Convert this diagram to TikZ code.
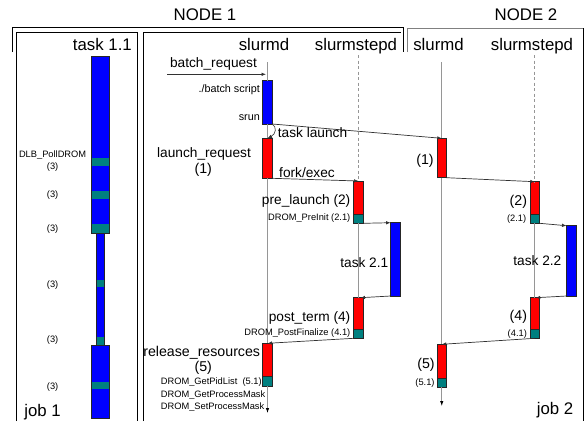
\documentclass[tikz,border=0pt]{standalone}
\usepackage{fontspec}
\setmainfont{Liberation Sans}
\usetikzlibrary{arrows.meta}
\definecolor{barblue}{RGB}{0,0,255}
\definecolor{barred}{RGB}{255,0,0}
\definecolor{barteal}{RGB}{0,128,128}
\definecolor{lifegray}{RGB}{150,150,150}
\definecolor{msggray}{RGB}{50,50,50}
\definecolor{framegray}{RGB}{128,128,128}
\begin{document}
\begin{tikzpicture}[x=1pt,y=-1pt,
  fsz/.style={font=\fontsize{#1}{#1}\selectfont},
  lbl/.style={inner sep=0pt},
  hdr/.style={lbl,fsz=16.8},
  midl/.style={lbl,fsz=13.7},
  numl/.style={lbl,fsz=14.2},
  sml/.style={lbl,fsz=9.3},
  scl/.style={lbl,fsz=10.8},
  frame/.style={draw=black,line width=0.9pt},
  gframe/.style={draw=framegray,line width=0.9pt},
  bar/.style={draw=black!85,line width=0.6pt,inner sep=0pt,minimum width=9.5pt,anchor=north west,outer sep=0pt},
  bluebar/.style={bar,fill=barblue},
  redbar/.style={bar,fill=barred},
  tealbar/.style={bar,fill=barteal},
  life/.style={draw=lifegray,line width=0.8pt},
  lifearrow/.style={life,-{Latex[length=5pt,width=3.5pt,color=black]}},
  msg/.style={draw=msggray,line width=0.7pt,-{Latex[length=4.5pt,width=3.5pt]}},
]
\useasboundingbox (0,0) rectangle (586,421);
\fill[white] (0,0) rectangle (586,421);

% ---------- frames ----------
\draw[frame] (12.7,52) -- (12.7,27.3) -- (403.3,27.3) -- (403.3,52);
\draw[frame] (16,421) -- (16,32) -- (137,32) -- (137,421);
\draw[frame] (143,421) -- (143,32) -- (401,32);
\draw[gframe] (407.5,52) -- (407.5,28) -- (583.7,28);
\draw[frame] (583.7,28) -- (583.7,421);

% ---------- headers ----------
\node[hdr,anchor=base] (n1) at (205,20) {NODE 1};
\node[hdr,anchor=base] (n2) at (526,20) {NODE 2};
\node[hdr,anchor=base east] (t11) at (132,50) {task 1.1};
\node[hdr,anchor=base] (sd1) at (264,50) {slurmd};
\node[hdr,anchor=base] (ss1) at (356,50) {slurmstepd};
\node[hdr,anchor=base] (sd2) at (438.5,50) {slurmd};
\node[hdr,anchor=base] (ss2) at (532,50) {slurmstepd};
\node[hdr,anchor=base] (j1) at (42.5,416) {job 1};
\node[hdr,anchor=base east] (j2) at (573.5,414.5) {job 2};

% ---------- left column (task 1.1) ----------
\fill[barblue] (91,56.7) rectangle (109,233);
\fill[barteal] (91,158.3) rectangle (109,166);
\fill[barteal] (91,190.7) rectangle (109,199);
\fill[barteal] (91,224) rectangle (109,233);
\draw[black!85,line width=0.7pt] (91,56.7) rectangle (109,233);
\fill[barblue] (96,233) rectangle (104,345);
\fill[barteal] (96,280) rectangle (104,287.3);
\fill[barteal] (96,337.3) rectangle (104,345);
\draw[black!85,line width=0.7pt] (96,233) rectangle (104,345);
\fill[barblue] (91,345) rectangle (109,418);
\fill[barteal] (91,382.3) rectangle (109,389);
\draw[black!85,line width=0.7pt] (91,345) rectangle (109,418);

\node[sml,anchor=base] (dlb) at (52.6,157.5) {DLB\_PollDROM};
\node[sml,anchor=base] (p3a) at (52.6,169.5) {(3)};
\node[sml,anchor=base] (p3b) at (52.6,197.8) {(3)};
\node[sml,anchor=base] (p3c) at (52.6,231.8) {(3)};
\node[sml,anchor=base] (p3d) at (52.6,287) {(3)};
\node[sml,anchor=base] (p3e) at (52.6,342.8) {(3)};
\node[sml,anchor=base] (p3f) at (52.6,389.5) {(3)};

% ---------- lifeline end points ----------
\coordinate (a1top) at (267.5,62);
\coordinate (a1bot) at (267.5,413);
\coordinate (s1top) at (358.5,55);
\coordinate (a2top) at (441.75,62);
\coordinate (a2bot) at (441.75,406);
\coordinate (s2top) at (534.75,55);

% ---------- bars NODE 1 ----------
\node[bluebar,minimum height=43.3pt] (bs) at (262.75,80.7) {};
\node[redbar,minimum height=40pt] (lr) at (262.75,138.3) {};
\node[redbar,minimum height=33pt] (pl) at (353.75,181) {};
\node[tealbar,minimum height=9.3pt] (plt) at (353.75,214) {};
\node[bluebar,minimum height=73.3pt] (t21) at (390.6,222.7) {};
\node[redbar,minimum height=31.6pt] (pt) at (353.75,297.7) {};
\node[tealbar,minimum height=9pt] (ptt) at (353.75,329.3) {};
\node[redbar,minimum height=33.4pt] (rr) at (262.75,343.3) {};
\node[tealbar,minimum height=9.3pt] (rrt) at (262.75,376.7) {};

% ---------- bars NODE 2 ----------
\node[redbar,minimum height=39.4pt] (n2lr) at (437,138.3) {};
\node[redbar,minimum height=32.3pt] (n2pl) at (530,181.7) {};
\node[tealbar,minimum height=9.3pt] (n2plt) at (530,214) {};
\node[bluebar,minimum height=70.3pt] (t22) at (566.5,225.7) {};
\node[redbar,minimum height=31.6pt] (n2pt) at (530,297.7) {};
\node[tealbar,minimum height=9pt] (n2ptt) at (530,329.3) {};
\node[redbar,minimum height=34pt] (n2rr) at (437,344.3) {};
\node[tealbar,minimum height=9pt] (n2rrt) at (437,378.3) {};

% ---------- lifelines ----------
\draw[life] (a1top) -- (bs.north);
\draw[life] (bs.south) -- (lr.north);
\draw[life] (lr.south) -- (rr.north);
\draw[lifearrow] (rrt.south) -- (a1bot);
\draw[life,dash pattern=on 3pt off 2.5pt] (s1top) -- (pl.north);
\draw[life] (plt.south) -- (pt.north);
\draw[life] (a2top) -- (n2lr.north);
\draw[life] (n2lr.south) -- (n2rr.north);
\draw[lifearrow] (n2rrt.south) -- (a2bot);
\draw[life,dash pattern=on 3pt off 2.5pt] (s2top) -- (n2pl.north);
\draw[life] (n2plt.south) -- (n2pt.north);

% ---------- messages ----------
\coordinate (brs) at (167,74.3);
\coordinate (bre) at (266,74.3);
\draw[msg] (brs) -- (bre);
\draw[msg] (bs.south east) -- (n2lr.north);
\draw[msg,line width=0.6pt] (bs.south east) .. controls (277,127) and (276,134) .. (lr.north);
\draw[msg] (lr.south east) -- (pl.north);
\draw[msg] (plt.south east) -- (t21.north west);
\draw[msg] (t21.south west) -- ([xshift=2pt]pt.north);
\draw[msg] (ptt.south west) -- (rr.north);
\draw[msg] (n2lr.south east) -- (n2pl.north);
\draw[msg] (n2plt.south east) -- (t22.north west);
\draw[msg] (t22.south west) -- ([xshift=1pt]n2pt.north);
\draw[msg] (n2ptt.south) -- (n2rr.north);

% ---------- labels NODE 1 ----------
\node[midl,anchor=base] (lbr) at (213.5,67) {batch\_request};
\node[scl,anchor=base east] (lbs) at (260,92) {./batch script};
\node[scl,anchor=base east] (lsr) at (260,120.5) {srun};
\node[midl,anchor=base west] (ltl) at (277.7,137) {task launch};
\node[midl,anchor=base] (llr) at (204,157) {launch\_request};
\node[numl,anchor=base] (l1) at (203.3,173) {(1)};
\node[midl,anchor=base west] (lfe) at (279,177) {fork/exec};
\node[midl,anchor=base east] (lpl) at (350.5,204.5) {pre\_launch (2)};
\node[sml,anchor=base east] (lpi) at (350.5,220.5) {DROM\_PreInit (2.1)};
\node[midl,anchor=base east] (lt21) at (388.5,267.5) {task 2.1};
\node[midl,anchor=base east] (lpt) at (350.5,321) {post\_term (4)};
\node[sml,anchor=base east] (lpf) at (350.5,335.5) {DROM\_PostFinalize (4.1)};
\node[numl,anchor=base] (lrr) at (201.7,356) {release\_resources};
\node[numl,anchor=base] (l5) at (203.3,371) {(5)};
\node[sml,anchor=base west] (lgp) at (160.7,384) {DROM\_GetPidList\ \ (5.1)};
\node[sml,anchor=base west] (lgm) at (160.7,397.3) {DROM\_GetProcessMask};
\node[sml,anchor=base west] (lsm) at (160.7,409.3) {DROM\_SetProcessMask};

% ---------- labels NODE 2 ----------
\node[numl,anchor=base] (m1) at (425,164) {(1)};
\node[numl,anchor=base] (m2) at (518.3,205) {(2)};
\node[sml,anchor=base] (m21) at (516.7,221) {(2.1)};
\node[midl,anchor=base east] (mt22) at (561.5,265.7) {task 2.2};
\node[numl,anchor=base] (m4) at (518.3,320.5) {(4)};
\node[sml,anchor=base] (m41) at (517.3,336) {(4.1)};
\node[numl,anchor=base] (m5) at (426,368) {(5)};
\node[sml,anchor=base] (m51) at (425,385) {(5.1)};
\end{tikzpicture}
\end{document}
